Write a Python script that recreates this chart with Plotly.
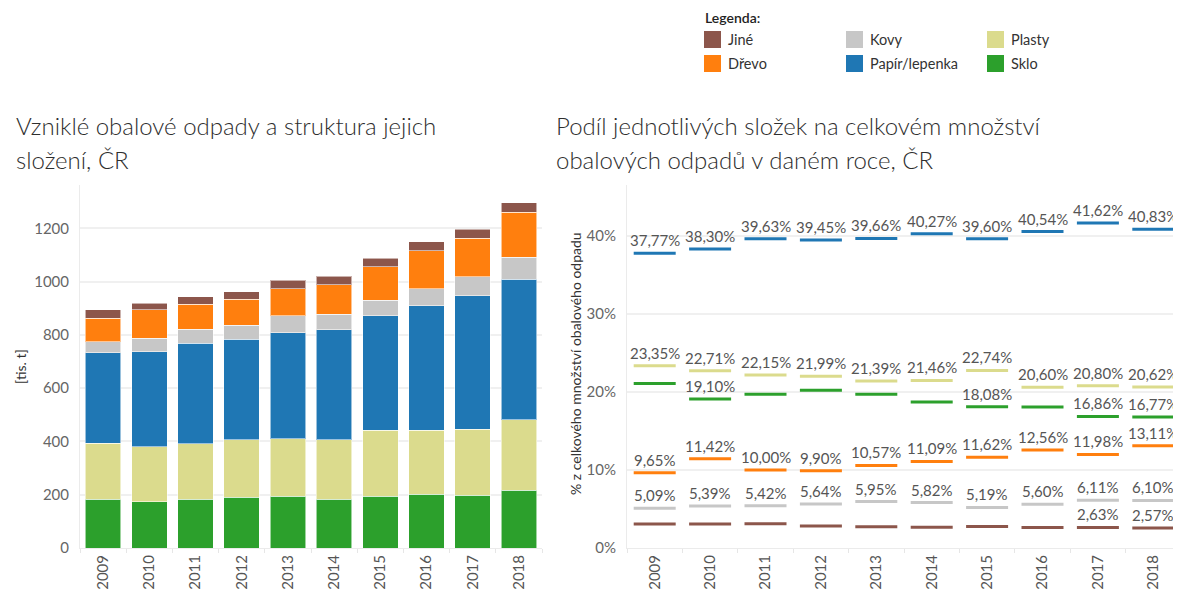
import plotly.graph_objects as go

# --- data -------------------------------------------------------------
years = ["2009", "2010", "2011", "2012", "2013", "2014", "2015", "2016", "2017", "2018"]

# vzniklé obalové odpady [tis. t], stacked from bottom to top
tonnes_sklo = [183, 173, 183, 190, 194, 184, 194, 202, 198, 217]
tonnes_plasty = [211, 208, 208, 216, 216, 222, 248, 240, 248, 265]
tonnes_papir = [339, 355, 378, 377, 398, 413, 431, 467, 502, 527]
tonnes_kovy = [42, 51, 53, 54, 65, 58, 58, 64, 71, 83]
tonnes_drevo = [88, 107, 93, 97, 100, 111, 125, 144, 144, 169]
tonnes_jine = [31, 25, 29, 28, 33, 33, 32, 33, 33, 35]

# podíl na celkovém množství [%]
share_papir = [37.77, 38.30, 39.63, 39.45, 39.66, 40.27, 39.60, 40.54, 41.62, 40.83]
share_plasty = [23.35, 22.71, 22.15, 21.99, 21.39, 21.46, 22.74, 20.60, 20.80, 20.62]
share_sklo = [21.08, 19.10, 19.70, 20.20, 19.70, 18.70, 18.08, 18.07, 16.86, 16.77]
share_drevo = [9.65, 11.42, 10.00, 9.90, 10.57, 11.09, 11.62, 12.56, 11.98, 13.11]
share_kovy = [5.09, 5.39, 5.42, 5.64, 5.95, 5.82, 5.19, 5.60, 6.11, 6.10]
share_jine = [3.06, 3.08, 3.10, 2.82, 2.73, 2.66, 2.77, 2.63, 2.63, 2.57]

# which share labels are visible (Tableau hid the overlapping ones)
label_sklo = [False, True, False, False, False, False, True, False, True, True]
label_jine = [False, False, False, False, False, False, False, False, True, True]
label_all = [True] * len(years)

pct_ticks = [0, 10, 20, 30, 40]
tonne_ticks = [0, 200, 400, 600, 800, 1000, 1200]

colors = {
    "Jiné": "#8c564b",
    "Kovy": "#c7c7c7",
    "Plasty": "#dbdb8d",
    "Dřevo": "#ff7f0e",
    "Papír/lepenka": "#1f77b4",
    "Sklo": "#2ca02c",
}
legend_rows = [["Jiné", "Kovy", "Plasty"], ["Dřevo", "Papír/lepenka", "Sklo"]]

stack = [
    ("Sklo", tonnes_sklo),
    ("Plasty", tonnes_plasty),
    ("Papír/lepenka", tonnes_papir),
    ("Kovy", tonnes_kovy),
    ("Dřevo", tonnes_drevo),
    ("Jiné", tonnes_jine),
]
shares = [
    ("Papír/lepenka", share_papir, label_all),
    ("Plasty", share_plasty, label_all),
    ("Sklo", share_sklo, label_sklo),
    ("Dřevo", share_drevo, label_all),
    ("Kovy", share_kovy, label_all),
    ("Jiné", share_jine, label_jine),
]

# --- layout helpers ----------------------------------------------------
W, H = 1181, 590
OFF = 8  # page body margin shifts the figure by 8px
FONT = "Lato"


def px(x):
    return (x - OFF) / W


def py(y):
    return 1 - (y - OFF) / H


def pct(v):
    return f"{v:.2f}".replace(".", ",") + "%"


fig = go.Figure()

for name, vals in stack:
    fig.add_trace(go.Bar(
        x=years, y=vals, name=name,
        marker=dict(color=colors[name], line=dict(color="rgba(255,255,255,0.55)", width=1)),
        xaxis="x", yaxis="y",
    ))

annotations = []
for name, vals, show in shares:
    fig.add_trace(go.Scatter(
        x=years, y=vals, name=name, mode="markers",
        marker=dict(symbol="line-ew", size=30,
                    line=dict(color=colors[name], width=3)),
        xaxis="x2", yaxis="y2",
    ))
    for i, (v, s) in enumerate(zip(vals, show)):
        if s:
            annotations.append(dict(
                x=i, y=v, xref="x2", yref="y2", yshift=13,
                text=pct(v), showarrow=False,
                font=dict(family=FONT, size=15, color="#555555"),
            ))

# titles
title_font = dict(family=FONT, size=24, color="#2e2e2e", weight=300)
for x0, lines in [(14, ["Vzniklé obalové odpady a struktura jejich", "složení, ČR"]),
                  (554, ["Podíl jednotlivých složek na celkovém množství",
                         "obalových odpadů v daném roce, ČR"])]:
    for i, line in enumerate(lines):
        annotations.append(dict(
            x=px(x0), y=py(126 + 34 * i), xref="paper", yref="paper",
            xanchor="left", yanchor="middle", text=line, showarrow=False,
            font=title_font,
        ))

# axis titles
annotations.append(dict(
    x=px(20), y=py(366), xref="paper", yref="paper", text="[tis. t]",
    textangle=-90, showarrow=False, xanchor="center", yanchor="middle",
    font=dict(family=FONT, size=14, color="#333333"),
))
annotations.append(dict(
    x=px(575), y=py(364), xref="paper", yref="paper",
    text="% z celkového množství obalového odpadu",
    textangle=-90, showarrow=False, xanchor="center", yanchor="middle",
    font=dict(family=FONT, size=14, color="#333333"),
))

# legend drawn by hand (3 x 2 grid)
shapes = []
annotations.append(dict(
    x=px(703), y=py(18), xref="paper", yref="paper", text="Legenda:",
    xanchor="left", yanchor="middle", showarrow=False,
    font=dict(family=FONT, size=14, color="#222222", weight=600),
))
col_x = [704, 846, 987]
row_y = [39.5, 63.5]
for r, row in enumerate(legend_rows):
    for c, name in enumerate(row):
        shapes.append(dict(
            type="rect", xref="paper", yref="paper",
            x0=px(col_x[c]), x1=px(col_x[c] + 17),
            y0=py(row_y[r] + 8.5), y1=py(row_y[r] - 8.5),
            fillcolor=colors[name], line=dict(width=0),
        ))
        annotations.append(dict(
            x=px(col_x[c] + 22), y=py(row_y[r]), xref="paper", yref="paper",
            text=name, xanchor="left", yanchor="middle", showarrow=False,
            font=dict(family=FONT, size=14.5, color="#333333"),
        ))

xaxis_common = dict(
    type="category", tickangle=-90, showgrid=False, range=[-0.5, len(years) - 0.5],
    showline=True, linecolor="#ebebeb", linewidth=1,
    ticks="outside", tickson="boundaries", ticklen=4, tickcolor="#e6e6e6",
    tickfont=dict(family=FONT, size=15, color="#555555"),
    automargin=False, fixedrange=True,
)
yaxis_common = dict(
    showgrid=True, gridcolor="#f0f0f0", gridwidth=1.5, zeroline=False,
    showline=True, linecolor="#ebebeb", linewidth=1, ticks="",
    ticklabelstandoff=7,
    tickfont=dict(family=FONT, size=15, color="#666666"),
    automargin=False, fixedrange=True,
)

fig.update_layout(
    width=W, height=H,
    margin=dict(l=0, r=0, t=0, b=0),
    paper_bgcolor="white", plot_bgcolor="white",
    barmode="stack", bargap=0.23,
    showlegend=False,
    font=dict(family=FONT),
    xaxis=dict(domain=[px(80), px(542)], anchor="y", **xaxis_common),
    yaxis=dict(domain=[py(548), py(185)], anchor="x", range=[0, 1363],
               tickmode="array", tickvals=tonne_ticks,
               ticktext=[str(t) for t in tonne_ticks], **yaxis_common),
    xaxis2=dict(domain=[px(627), px(1181)], anchor="y2", **xaxis_common),
    yaxis2=dict(domain=[py(548), py(185)], anchor="x2", range=[0, 46.5],
                tickmode="array", tickvals=pct_ticks,
                ticktext=[f"{t}%" for t in pct_ticks], **yaxis_common),
    annotations=annotations,
    shapes=shapes,
)

fig.write_html("out.html")
